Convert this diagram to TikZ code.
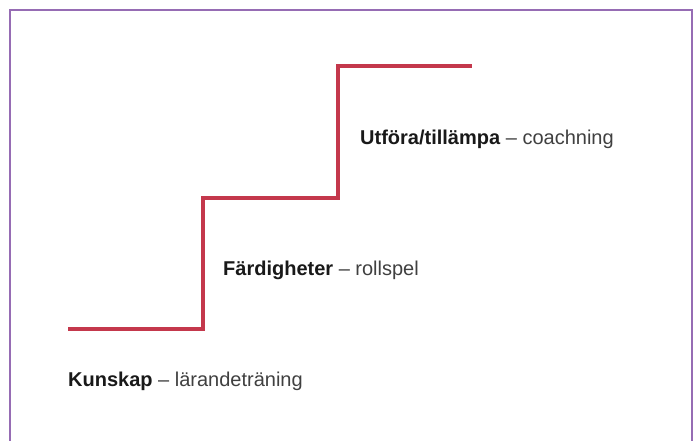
\documentclass[tikz,border=0pt]{standalone}
\usepackage{fontspec}
\setmainfont{Liberation Sans}
\definecolor{ramlila}{RGB}{150,108,180}
\definecolor{trappröd}{RGB}{196,56,76}
\tikzset{
  steglinje/.style={line width=4.5pt, color=trappröd, line cap=butt, line join=miter},
  stegtext/.style={anchor=west, inner sep=0pt, font=\fontsize{20}{24}\selectfont, text=black!75}
}
\newcommand{\steg}[2]{\textcolor{black!90}{\textbf{#1}} -- #2}
\begin{document}
\begin{tikzpicture}[x=1pt, y=-1pt]
	\useasboundingbox (0,0) rectangle (696,441);
	\fill[white] (0,0) rectangle (696,441);
	
	% ram, oppen nedtill
	\draw[ramlila, line width=2.5pt] (10,441) -- (10,10) -- (692,10) -- (692,441);
	
	% trappan
	\coordinate (s0) at (68,329);
	\coordinate (s1) at (203,329);
	\coordinate (s2) at (203,198);
	\coordinate (s3) at (338,198);
	\coordinate (s4) at (338,66);
	\coordinate (s5) at (472,66);
	\draw[steglinje] (s0) -- (s1) -- (s2) -- (s3) -- (s4) -- (s5);
	
	\node[stegtext] (kunskap) at (68,381) {\steg{Kunskap}{lärandeträning}};
	\node[stegtext] (fardighet) at (223,270) {\steg{Färdigheter}{rollspel}};
	\node[stegtext] (utfora) at (360,139) {\steg{Utföra/tillämpa}{coachning}};
\end{tikzpicture}
\end{document}
